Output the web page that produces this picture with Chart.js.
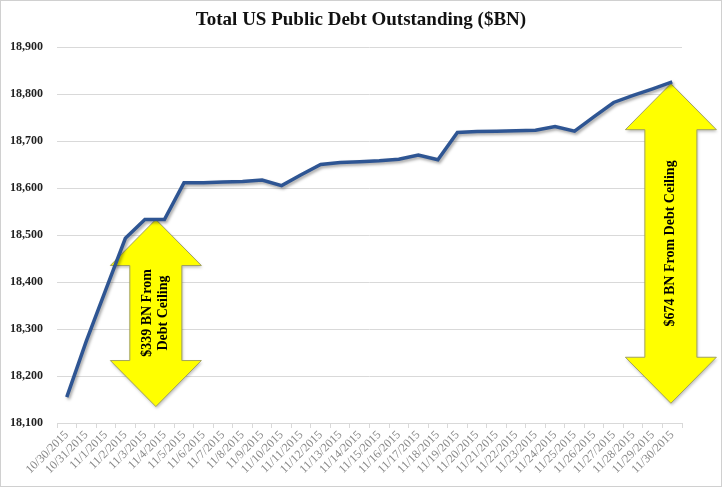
<!DOCTYPE html>
<html>
<head>
<meta charset="utf-8">
<script src="https://cdn.jsdelivr.net/npm/chart.js@4.4.0/dist/chart.umd.min.js"></script>
<style>
  body { margin: 0; background: #fff; }
  #wrap { width: 722px; height: 488px; position: relative; }
</style>
</head>
<body>
<div id="wrap"><canvas id="debtChart"></canvas></div>
<script>
// dates on the category axis
var dates = ['10/30/2015', '10/31/2015', '11/1/2015', '11/2/2015', '11/3/2015', '11/4/2015',
  '11/5/2015', '11/6/2015', '11/7/2015', '11/8/2015', '11/9/2015', '11/10/2015', '11/11/2015',
  '11/12/2015', '11/13/2015', '11/14/2015', '11/15/2015', '11/16/2015', '11/17/2015',
  '11/18/2015', '11/19/2015', '11/20/2015', '11/21/2015', '11/22/2015', '11/23/2015',
  '11/24/2015', '11/25/2015', '11/26/2015', '11/27/2015', '11/28/2015', '11/29/2015', '11/30/2015'];

// total public debt outstanding, $BN
var debt = [18155, 18274, 18384, 18493, 18533, 18533,
  18611, 18611, 18613, 18614, 18617, 18605, 18628,
  18650, 18654, 18656, 18658, 18661, 18670,
  18660, 18718, 18720, 18721, 18722, 18723,
  18731, 18721, 18752, 18782, 18797, 18811, 18826];

var yMin = 18100;
var yMax = 18900;
var yStep = 100;

// arrow annotations: x as category index, y in $BN
var arrowLeft = { x: 4.56, top: 18533, bottom: 18135, text: ['$339 BN From', 'Debt Ceiling'] };
var arrowRight = { x: 30.93, top: 18822, bottom: 18142, text: ['$674 BN From Debt Ceiling'] };

var serif = '"Liberation Serif", "Times New Roman", serif';

function drawArrow(ctx, chart, a) {
  var xs = chart.scales.x, ys = chart.scales.y;
  var cx = xs.getPixelForValue(a.x);
  var top = ys.getPixelForValue(a.top);
  var bot = ys.getPixelForValue(a.bottom);
  var headLen = 46, headHalf = 45.5, shaftHalf = 26;

  ctx.save();
  ctx.beginPath();
  ctx.moveTo(cx, top);
  ctx.lineTo(cx + headHalf, top + headLen);
  ctx.lineTo(cx + shaftHalf, top + headLen);
  ctx.lineTo(cx + shaftHalf, bot - headLen);
  ctx.lineTo(cx + headHalf, bot - headLen);
  ctx.lineTo(cx, bot);
  ctx.lineTo(cx - headHalf, bot - headLen);
  ctx.lineTo(cx - shaftHalf, bot - headLen);
  ctx.lineTo(cx - shaftHalf, top + headLen);
  ctx.lineTo(cx - headHalf, top + headLen);
  ctx.closePath();
  ctx.shadowColor = 'rgba(0,0,0,0.25)';
  ctx.shadowBlur = 3;
  ctx.shadowOffsetX = 1;
  ctx.shadowOffsetY = 2;
  ctx.fillStyle = '#FFFF00';
  ctx.fill();
  ctx.shadowColor = 'transparent';
  ctx.lineWidth = 1;
  ctx.strokeStyle = '#a3a35c';
  ctx.stroke();

  // vertical text, reading bottom to top
  ctx.translate(cx, (top + bot) / 2);
  ctx.rotate(-Math.PI / 2);
  ctx.fillStyle = '#000';
  ctx.font = 'bold 14px ' + serif;
  ctx.textAlign = 'center';
  ctx.textBaseline = 'middle';
  var lh = 16;
  var start = -(a.text.length - 1) * lh / 2;
  a.text.forEach(function (t, i) {
    ctx.fillText(t, 0, start + i * lh);
  });
  ctx.restore();
}

var decorPlugin = {
  id: 'decor',
  beforeDraw: function (chart) {
    var ctx = chart.ctx;
    ctx.save();
    ctx.fillStyle = '#fff';
    ctx.fillRect(0, 0, chart.width, chart.height);
    ctx.strokeStyle = '#d0d0d0';
    ctx.lineWidth = 1;
    ctx.strokeRect(0.5, 0.5, chart.width - 1, chart.height - 2);
    ctx.fillStyle = '#111';
    ctx.font = 'bold 19px ' + serif;
    ctx.textAlign = 'center';
    ctx.textBaseline = 'middle';
    ctx.fillText('Total US Public Debt Outstanding ($BN)', 361, 20);
    ctx.restore();
  },
  beforeDatasetsDraw: function (chart) {
    drawArrow(chart.ctx, chart, arrowLeft);
    drawArrow(chart.ctx, chart, arrowRight);
    chart.ctx.save();
    chart.ctx.shadowColor = 'rgba(0,0,0,0.35)';
    chart.ctx.shadowBlur = 3;
    chart.ctx.shadowOffsetX = 1.5;
    chart.ctx.shadowOffsetY = 2;
  },
  afterDatasetsDraw: function (chart) {
    chart.ctx.restore();
  }
};

new Chart(document.getElementById('debtChart').getContext('2d'), {
  type: 'line',
  data: {
    labels: dates,
    datasets: [{
      data: debt,
      borderColor: '#2E5593',
      borderWidth: 3.5,
      pointRadius: 0,
      tension: 0,
      fill: false
    }]
  },
  options: {
    responsive: true,
    maintainAspectRatio: false,
    animation: false,
    layout: { padding: { top: 47, right: 40, left: 0, bottom: 0 } },
    plugins: {
      legend: { display: false },
      tooltip: { enabled: false }
    },
    scales: {
      x: {
        offset: true,
        grid: { display: true, drawOnChartArea: false, drawTicks: true, tickLength: 5, offset: true, color: '#d9d9d9' },
        border: { color: '#d9d9d9' },
        ticks: {
          autoSkip: false,
          minRotation: 45,
          maxRotation: 45,
          padding: 0,
          color: '#8a8a8a',
          font: { family: serif, size: 12 }
        },
        afterFit: function (scale) { scale.height = 65; }
      },
      y: {
        min: yMin,
        max: yMax,
        ticks: {
          stepSize: yStep,
          padding: 14,
          color: '#222',
          font: { family: serif, size: 12, weight: 'bold' },
          callback: function (v) { return v.toLocaleString('en-US'); }
        },
        grid: { color: '#d9d9d9', drawTicks: false },
        border: { display: false },
        afterFit: function (scale) { scale.width = 57; }
      }
    }
  },
  plugins: [decorPlugin]
});
</script>
</body>
</html>
